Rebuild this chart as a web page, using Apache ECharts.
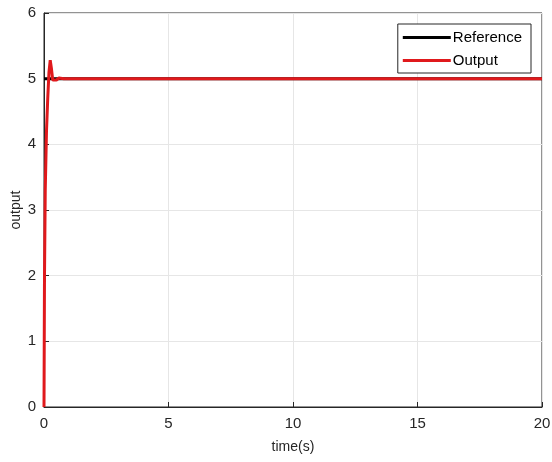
<!DOCTYPE html>
<html>
<head>
<meta charset="utf-8">
<script src="https://cdn.jsdelivr.net/npm/echarts@6/dist/echarts.min.js"></script>
<style>
  html, body { margin: 0; padding: 0; background: #fff; }
  #chart { width: 552px; height: 462px; }
</style>
</head>
<body>
<div id="chart"></div>
<script>
// Step response: time samples (s) and the two traces
const timeRef = [0, 20];
const refValues = [5, 5];

const timeOut = [0, 0.02, 0.05, 0.1, 0.15, 0.2, 0.25, 0.3, 0.35, 0.4, 0.5, 0.6, 0.8, 1, 20];
const outValues = [0, 2.0, 3.3, 4.2, 4.7, 5.1, 5.28, 5.15, 4.98, 4.95, 4.98, 5.01, 5.0, 5.0, 5.0];

const xTicks = [0, 5, 10, 15, 20];
const yTicks = [0, 1, 2, 3, 4, 5, 6];

const axisColor = '#262626';
const fontFamily = 'Liberation Sans, Arial, sans-serif';

const chart = echarts.init(document.getElementById('chart'));
chart.setOption({
  animation: false,
  backgroundColor: '#fff',
  grid: {
    left: 44, right: 10, top: 13, bottom: 55,
    containLabel: false, outerBoundsMode: 'none',
    show: true, borderColor: axisColor, borderWidth: 1
  },
  legend: {
    orient: 'vertical',
    right: 21, top: 24,
    padding: [6, 9, 5, 5],
    itemGap: 8,
    itemWidth: 48, itemHeight: 3,
    icon: 'rect',
    backgroundColor: '#fff',
    borderColor: axisColor, borderWidth: 1, borderRadius: 0,
    textStyle: { fontFamily, fontSize: 15, color: '#000', padding: [0, 0, 0, -3] },
    data: ['Reference', 'Output']
  },
  xAxis: {
    type: 'value', min: 0, max: 20, interval: 5,
    name: 'time(s)', nameLocation: 'middle', nameGap: 33,
    nameMoveOverlap: false,
    nameTextStyle: { fontFamily, fontSize: 14, color: '#262626' },
    axisLine: { lineStyle: { color: axisColor } },
    axisTick: { inside: true, length: 5, lineStyle: { color: axisColor } },
    axisLabel: { fontFamily, fontSize: 15, color: '#262626', margin: 9,
      formatter: v => xTicks.includes(v) ? String(v) : '' },
    splitLine: { show: true, lineStyle: { color: '#e6e6e6' } }
  },
  yAxis: {
    type: 'value', min: 0, max: 6, interval: 1,
    name: 'output', nameLocation: 'middle', nameGap: 21,
    nameMoveOverlap: false,
    nameTextStyle: { fontFamily, fontSize: 14, color: '#262626' },
    axisLine: { show: true, lineStyle: { color: axisColor } },
    axisTick: { show: true, inside: true, length: 5, lineStyle: { color: axisColor } },
    axisLabel: { fontFamily, fontSize: 15, color: '#262626', margin: 8,
      formatter: v => yTicks.includes(v) ? String(v) : '' },
    splitLine: { show: true, lineStyle: { color: '#e6e6e6' } }
  },
  series: [
    {
      name: 'Reference', type: 'line', showSymbol: false,
      itemStyle: { color: '#000' },
      lineStyle: { color: '#000', width: 3 },
      data: timeRef.map((t, i) => [t, refValues[i]])
    },
    {
      name: 'Output', type: 'line', showSymbol: false,
      itemStyle: { color: '#e0191c' },
      lineStyle: { color: '#e0191c', width: 3 },
      data: timeOut.map((t, i) => [t, outValues[i]])
    }
  ]
});
</script>
</body>
</html>
